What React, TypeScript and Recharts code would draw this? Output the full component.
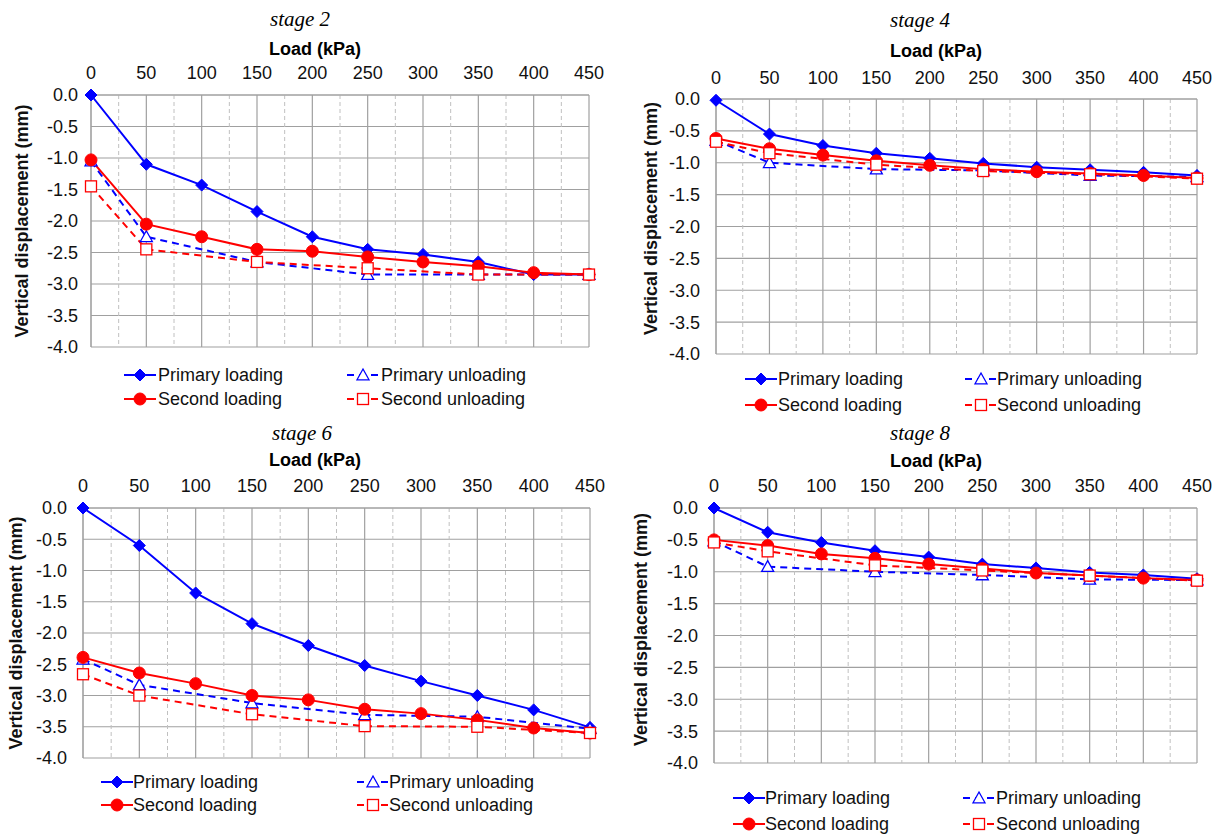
import React from "react";
import { LineChart, Line, XAxis, YAxis, CartesianGrid, ReferenceLine, Label } from "recharts";

// load steps (kPa)
const loads = [0, 50, 100, 150, 200, 250, 300, 350, 400, 450];
const unloadLoads = [0, 50, 150, 250, 350, 450];
const minorLoads = [25, 75, 125, 175, 225, 275, 325, 375, 425];
const loadTicks = [0, 50, 100, 150, 200, 250, 300, 350, 400, 450];
const dispTicks = [0, -0.5, -1, -1.5, -2, -2.5, -3, -3.5, -4];

// stage 2
const s2PrimaryLoading = [0, -1.1, -1.43, -1.85, -2.25, -2.45, -2.53, -2.65, -2.85, -2.85];
const s2PrimaryUnloading = [-1.05, -2.25, -2.65, -2.85, -2.85, -2.85];
const s2SecondLoading = [-1.03, -2.05, -2.25, -2.45, -2.48, -2.57, -2.65, -2.72, -2.82, -2.85];
const s2SecondUnloading = [-1.45, -2.45, -2.65, -2.75, -2.85, -2.85];

// stage 4
const s4PrimaryLoading = [-0.02, -0.55, -0.73, -0.85, -0.93, -1.01, -1.07, -1.11, -1.15, -1.2];
const s4PrimaryUnloading = [-0.65, -1.0, -1.1, -1.12, -1.2, -1.22];
const s4SecondLoading = [-0.62, -0.78, -0.88, -0.97, -1.04, -1.1, -1.14, -1.17, -1.2, -1.24];
const s4SecondUnloading = [-0.67, -0.85, -1.03, -1.13, -1.18, -1.25];

// stage 6
const s6PrimaryLoading = [0, -0.6, -1.36, -1.85, -2.2, -2.52, -2.77, -3.0, -3.23, -3.51];
const s6PrimaryUnloading = [-2.42, -2.83, -3.12, -3.31, -3.34, -3.53];
const s6SecondLoading = [-2.39, -2.64, -2.81, -3.0, -3.07, -3.22, -3.29, -3.39, -3.52, -3.6];
const s6SecondUnloading = [-2.66, -3.0, -3.3, -3.49, -3.5, -3.6];

// stage 8
const s8PrimaryLoading = [0, -0.38, -0.54, -0.67, -0.77, -0.88, -0.94, -1.01, -1.05, -1.11];
const s8PrimaryUnloading = [-0.52, -0.92, -1.0, -1.05, -1.12, -1.13];
const s8SecondLoading = [-0.5, -0.59, -0.72, -0.79, -0.88, -0.95, -1.02, -1.06, -1.1, -1.13];
const s8SecondUnloading = [-0.54, -0.68, -0.9, -0.98, -1.06, -1.14];

const BLUE = "#0000ff";
const RED = "#ff0000";
const SANS = "'Liberation Sans', Arial, sans-serif";
const FS = 18;

const toRows = (xs: number[], ys: number[]) => xs.map((load, i) => ({ load, v: ys[i] }));

function Diamond({ cx, cy, size = 6 }: any) {
  return <polygon points={`${cx},${cy - size} ${cx + size},${cy} ${cx},${cy + size} ${cx - size},${cy}`} fill={BLUE} stroke={BLUE} />;
}
function Tri({ cx, cy, size = 6 }: any) {
  return (
    <polygon
      points={`${cx},${cy - size} ${cx + size},${cy + size * 0.8} ${cx - size},${cy + size * 0.8}`}
      fill="#fff"
      stroke={BLUE}
      strokeWidth={1.3}
    />
  );
}
function Dot({ cx, cy, size = 6 }: any) {
  return <circle cx={cx} cy={cy} r={size} fill={RED} stroke={RED} />;
}
function Sq({ cx, cy, size = 5.5 }: any) {
  return <rect x={cx - size} y={cy - size} width={size * 2} height={size * 2} fill="#fff" stroke={RED} strokeWidth={1.3} />;
}

const mk = (Shape: any) => (p: any) =>
  p.cx == null || p.cy == null ? <g key={p.key ?? p.index} /> : <Shape key={p.key ?? p.index} cx={p.cx} cy={p.cy} />;

const series = [
  { name: "Primary loading", color: BLUE, dash: undefined, Shape: Diamond, x: loads },
  { name: "Primary unloading", color: BLUE, dash: "7 5", Shape: Tri, x: unloadLoads },
  { name: "Second loading", color: RED, dash: undefined, Shape: Dot, x: loads },
  { name: "Second unloading", color: RED, dash: "7 5", Shape: Sq, x: unloadLoads },
];

const stages = [
  {
    title: "stage 2",
    values: [s2PrimaryLoading, s2PrimaryUnloading, s2SecondLoading, s2SecondUnloading],
    box: { x: 0, y: 0, plotL: 91, plotR: 589, plotT: 95, plotB: 347, tickM: 10, yTickM: 7, yLab: 22, yLabDy: 0 },
    title_xy: [300, 19], load_xy: [315, 49],
    legend: { rows: [375, 399], left: [124, 158], right: [347, 381] },
  },
  {
    title: "stage 4",
    values: [s4PrimaryLoading, s4PrimaryUnloading, s4SecondLoading, s4SecondUnloading],
    box: { x: 610, y: 0, plotL: 716, plotR: 1197, plotT: 99, plotB: 354, tickM: 9, yTickM: 10, yLab: 41, yLabDy: -8 },
    title_xy: [920, 20], load_xy: [936, 51],
    legend: { rows: [379, 405], left: [745, 778], right: [965, 997] },
  },
  {
    title: "stage 6",
    values: [s6PrimaryLoading, s6PrimaryUnloading, s6SecondLoading, s6SecondUnloading],
    box: { x: 0, y: 420, plotL: 83, plotR: 590, plotT: 508, plotB: 758, tickM: 10, yTickM: 10, yLab: 16, yLabDy: 0 },
    title_xy: [302, 433], load_xy: [315, 460],
    legend: { rows: [782, 805], left: [101, 133], right: [357, 389] },
  },
  {
    title: "stage 8",
    values: [s8PrimaryLoading, s8PrimaryUnloading, s8SecondLoading, s8SecondUnloading],
    box: { x: 610, y: 420, plotL: 714, plotR: 1197, plotT: 508, plotB: 763, tickM: 10, yTickM: 10, yLab: 31, yLabDy: -6 },
    title_xy: [920, 433], load_xy: [936, 461],
    legend: { rows: [798, 824], left: [733, 765], right: [963, 996] },
  },
];

const W = 610;
const H = 418;
const XH = 30;

function LegendItem({ s, x, textX, y }: any) {
  const Shape = s.Shape;
  return (
    <>
      <svg style={{ position: "absolute", left: x, top: y - 9 }} width={32} height={18}>
        <line x1={0} y1={9} x2={32} y2={9} stroke={s.color} strokeWidth={2} strokeDasharray={s.dash} />
        <Shape cx={16} cy={9} />
      </svg>
      <span
        style={{
          position: "absolute",
          left: textX,
          top: y,
          transform: "translateY(-50%)",
          fontFamily: SANS,
          fontSize: FS,
          color: "#111",
          whiteSpace: "nowrap",
          lineHeight: 1,
        }}
      >
        {s.name}
      </span>
    </>
  );
}

function StagePanel({ st }: any) {
  const b = st.box;
  const margin = { left: 0, right: b.x + W - b.plotR, top: b.plotT - b.y - XH, bottom: b.y + H - b.plotB };
  return (
    <>
      <span
        style={{
          position: "absolute",
          left: st.title_xy[0],
          top: st.title_xy[1],
          transform: "translate(-50%, -50%)",
          fontFamily: "'Liberation Serif', 'Times New Roman', serif",
          fontStyle: "italic",
          fontSize: 21,
          whiteSpace: "nowrap",
          lineHeight: 1,
        }}
      >
        {st.title}
      </span>
      <span
        style={{
          position: "absolute",
          left: st.load_xy[0],
          top: st.load_xy[1],
          transform: "translate(-50%, -50%)",
          fontFamily: SANS,
          fontWeight: "bold",
          fontSize: FS,
          whiteSpace: "nowrap",
          lineHeight: 1,
        }}
      >
        Load (kPa)
      </span>
      <div style={{ position: "absolute", left: b.x, top: b.y }}>
        <LineChart width={W} height={H} margin={margin}>
          <CartesianGrid stroke="#a0a0a0" strokeWidth={1.2} />
          {minorLoads.map((m) => (
            <ReferenceLine key={m} x={m} stroke="#c0c0c0" strokeDasharray="4 3" ifOverflow="hidden" />
          ))}
          <XAxis
            type="number"
            dataKey="load"
            orientation="top"
            domain={[0, 450]}
            ticks={loadTicks}
            height={XH}
            tickLine={false}
            tickMargin={b.tickM}
            axisLine={{ stroke: "#a0a0a0" }}
            tick={{ fill: "#111", fontSize: FS, fontFamily: SANS }}
            allowDuplicatedCategory={false}
          />
          <YAxis
            type="number"
            domain={[-4, 0]}
            ticks={dispTicks}
            width={b.plotL - b.x}
            tickLine={false}
            tickMargin={b.yTickM}
            axisLine={{ stroke: "#a0a0a0" }}
            tickFormatter={(v: number) => v.toFixed(1)}
            tick={{ fill: "#111", fontSize: FS, fontFamily: SANS }}
          >
            <Label
              value="Vertical displacement (mm)"
              angle={-90}
              position="insideLeft"
              offset={b.yLab}
              dy={b.yLabDy}
              style={{ textAnchor: "middle", fontFamily: SANS, fontWeight: "bold", fontSize: FS, fill: "#111" }}
            />
          </YAxis>
          {series.map((s, i) => (
            <Line
              key={s.name}
              data={toRows(s.x, st.values[i])}
              dataKey="v"
              name={s.name}
              stroke={s.color}
              strokeWidth={2}
              strokeDasharray={s.dash}
              dot={mk(s.Shape)}
              activeDot={false}
              isAnimationActive={false}
            />
          ))}
        </LineChart>
      </div>
      <LegendItem s={series[0]} x={st.legend.left[0]} textX={st.legend.left[1]} y={st.legend.rows[0]} />
      <LegendItem s={series[1]} x={st.legend.right[0]} textX={st.legend.right[1]} y={st.legend.rows[0]} />
      <LegendItem s={series[2]} x={st.legend.left[0]} textX={st.legend.left[1]} y={st.legend.rows[1]} />
      <LegendItem s={series[3]} x={st.legend.right[0]} textX={st.legend.right[1]} y={st.legend.rows[1]} />
    </>
  );
}

export default function App() {
  return (
    <div style={{ position: "absolute", left: 0, top: 0, width: 1222, height: 837, background: "#fff", overflow: "hidden" }}>
      {stages.map((st) => (
        <StagePanel key={st.title} st={st} />
      ))}
    </div>
  );
}
